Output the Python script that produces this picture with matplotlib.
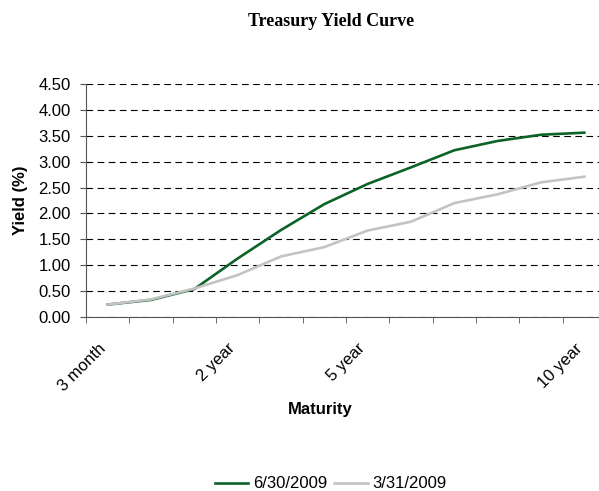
import numpy as np
import matplotlib.pyplot as plt
from matplotlib.transforms import ScaledTranslation

plt.rcParams['font.family'] = ['Liberation Sans', 'DejaVu Sans']

maturity = ['3 month', '', '', '2 year', '', '', '5 year', '', '', '', '', '10 year']
yield_jun = [0.24, 0.33, 0.54, 1.13, 1.68, 2.18, 2.57, 2.89, 3.22, 3.40, 3.52, 3.56]
yield_mar = [0.24, 0.34, 0.55, 0.81, 1.17, 1.35, 1.67, 1.84, 2.20, 2.37, 2.60, 2.71]
series_names = ['6/30/2009', '3/31/2009']

fig = plt.figure(figsize=(5.99, 4.91), dpi=100)
ax = fig.add_axes([86/599, 174/491, 520/599, 233/491])

x = np.arange(len(maturity))
ax.plot(x, yield_jun, color='#0b6327', lw=1.9, label=series_names[0])
ax.plot(x, yield_mar, color='#c3c3c3', lw=1.9, label=series_names[1])

ax.set_xlim(-0.5, len(maturity) - 0.5)
ax.set_ylim(0, 4.5)
ax.set_yticks(np.arange(0, 4.51, 0.5))
ax.set_yticklabels(['%.2f' % v for v in np.arange(0, 4.51, 0.5)], fontsize=12)
ax.yaxis.grid(True, color='black', linestyle=(0, (6, 4)), lw=0.8)
ax.set_axisbelow(True)

ax.set_xticks(x)
ax.set_xticklabels(maturity, rotation=45, ha='right', va='top',
                   rotation_mode='anchor', fontsize=12)
ax.set_xticks(np.arange(-0.5, len(maturity)), minor=True)
ax.tick_params(axis='x', which='major', length=0, pad=17)
ax.tick_params(axis='x', which='minor', length=4, direction='out', color='#555555')
ax.tick_params(axis='y', length=4, direction='out', color='#555555', pad=7)
for lab in ax.get_xticklabels():
    lab.set_transform(lab.get_transform() + ScaledTranslation(-10/100, 0, fig.dpi_scale_trans))

for s in ['top', 'right']:
    ax.spines[s].set_visible(False)
for s in ['left', 'bottom']:
    ax.spines[s].set_color('#555555')

ax.set_ylabel('Yield (%)', fontsize=12, fontweight='bold')
ax.yaxis.set_label_coords(-(86 - 28) / 520, 0.5)
ax.set_xlabel('Maturity', fontsize=12, fontweight='bold')
ax.xaxis.set_label_coords((320 - 86) / 520, -(402 - 317) / 233)

fig.text(331/599, 1 - 22/491, 'Treasury Yield Curve', ha='center', va='center',
         family='Liberation Serif', fontsize=13, fontweight='bold')

fig.legend(loc='center', bbox_to_anchor=(331/599, 1 - 484/491), ncol=2, frameon=False,
           fontsize=12, handlelength=2.0, handletextpad=0.3, columnspacing=0.4)

fig.savefig('out.png', dpi=100)
